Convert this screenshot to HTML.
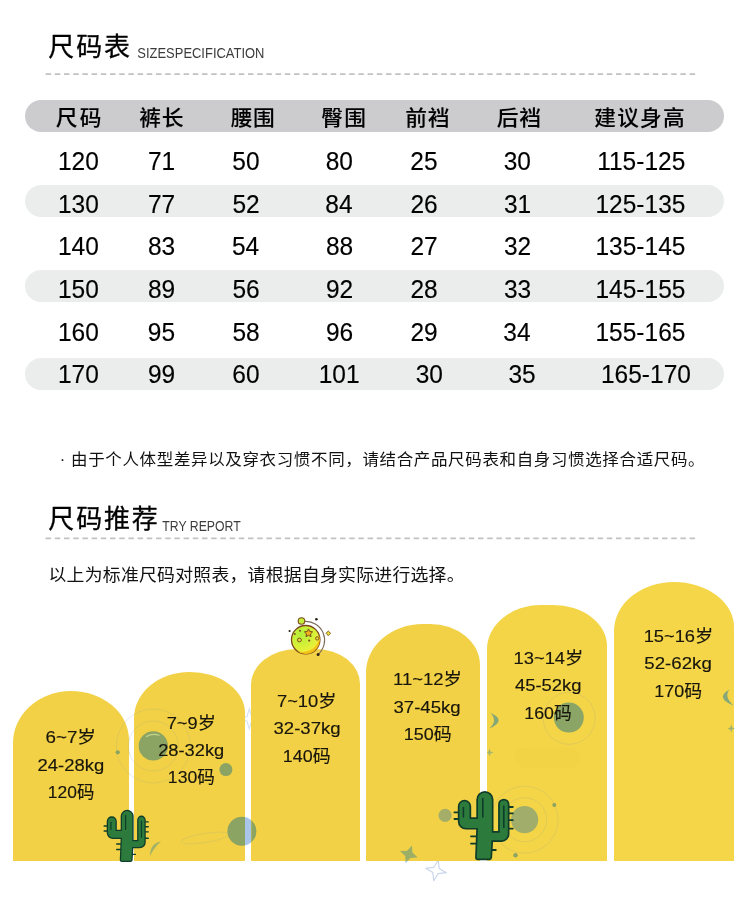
<!DOCTYPE html>
<html lang="zh-CN">
<head>
<meta charset="utf-8">
<title>尺码表 · 尺码推荐</title>
<style>
html,body{margin:0;padding:0;background:#fff}
body{position:relative;width:750px;height:914px;overflow:hidden;color:#111;
  font-family:"Liberation Sans","Noto Sans CJK SC",sans-serif}
main,h2,p,div,section{margin:0;padding:0;font-weight:400}
.t{position:absolute;display:block;white-space:nowrap;line-height:1;transform-origin:0 0;margin:0;padding:0}
.ttl{color:#000;font-weight:400;-webkit-text-stroke:0.3px #000}
.sub{color:#3c3c3c;font-weight:400}
.note{color:#111;font-weight:400}
.th{color:#000;font-weight:500;-webkit-text-stroke:0.1px #000}
.td{color:#000;font-weight:400;-webkit-text-stroke:0.15px #000}
.al{color:#17150c;font-weight:400;-webkit-text-stroke:0.15px #17150c}
.dash{position:absolute;left:0;top:0}
.bar{position:absolute;left:24.8px;width:699.2px;height:31.6px;border-radius:16px}
.bar.hd{background:#cccccf}
.bar.alt{background:#ebecec}
.arch{position:absolute;background:#f1d046}
.art{position:absolute;left:0;top:0;width:750px;height:914px;pointer-events:none}
</style>
</head>
<body>
<main>
<section id="size-table" aria-label="尺码表">
<h2><span id="h1" class="t ttl" style="left:48px;top:34px;font-size:26.00px;letter-spacing:1.85px;transform:translateX(0.33px)">尺码表</span><span id="h1s" class="t sub" style="left:137px;top:46px;font-size:14.30px;transform:translateX(0.33px) scaleX(0.9057)">SIZESPECIFICATION</span></h2>
<svg class="dash" width="750" height="914" viewBox="0 0 750 914"><line x1="45.6" y1="74.1" x2="695.9" y2="74.1" stroke="#c2c2c2" stroke-width="1.7" stroke-dasharray="5.5 3.7"/><line x1="45.6" y1="538.3" x2="695.9" y2="538.3" stroke="#c2c2c2" stroke-width="1.7" stroke-dasharray="5.5 3.7"/></svg>
<div class="bar hd" style="top:100.2px"></div>
<div class="bar alt" style="top:185.3px"></div>
<div class="bar alt" style="top:270.1px"></div>
<div class="bar alt" style="top:358.1px"></div>
<div class="tbl" role="table">
<div class="thead" role="row"><span id="th0" class="t th" role="columnheader" style="left:55px;top:108px;font-size:20.90px;letter-spacing:2.06px;transform:translateX(0.83px) scaleX(1.0400)">尺码</span><span id="th1" class="t th" role="columnheader" style="left:139px;top:108px;font-size:20.90px;letter-spacing:0.91px;transform:translateX(0.17px) scaleX(1.0400)">裤长</span><span id="th2" class="t th" role="columnheader" style="left:230px;top:108px;font-size:20.90px;letter-spacing:0.58px;transform:translateX(0.67px) scaleX(1.0400)">腰围</span><span id="th3" class="t th" role="columnheader" style="left:321px;top:108px;font-size:20.90px;letter-spacing:1.08px;transform:translateX(0.33px) scaleX(1.0400)">臀围</span><span id="th4" class="t th" role="columnheader" style="left:405px;top:108px;font-size:20.90px;letter-spacing:0.91px;transform:translateX(0.17px) scaleX(1.0400)">前裆</span><span id="th5" class="t th" role="columnheader" style="left:496px;top:108px;font-size:20.90px;letter-spacing:0.73px;transform:translateX(0.67px) scaleX(1.0400)">后裆</span><span id="th6" class="t th" role="columnheader" style="left:594px;top:108px;font-size:20.90px;letter-spacing:1.10px;transform:translateX(0.33px) scaleX(1.0400)">建议身高</span></div>
<div class="tr" role="row"><span id="d0_0" class="t td" role="cell" style="left:58px;top:149px;font-size:25.14px;transform:scaleX(0.9750)">120</span><span id="d0_1" class="t td" role="cell" style="left:147px;top:149px;font-size:25.14px;transform:translateX(1.00px) scaleX(0.9750)">71</span><span id="d0_2" class="t td" role="cell" style="left:232px;top:149px;font-size:25.14px;transform:translateX(0.33px) scaleX(0.9750)">50</span><span id="d0_3" class="t td" role="cell" style="left:325px;top:149px;font-size:25.14px;transform:translateX(0.67px) scaleX(0.9750)">80</span><span id="d0_4" class="t td" role="cell" style="left:410px;top:149px;font-size:25.14px;transform:translateX(0.33px) scaleX(0.9750)">25</span><span id="d0_5" class="t td" role="cell" style="left:503px;top:149px;font-size:25.14px;transform:translateX(0.67px) scaleX(0.9750)">30</span><span id="d0_6" class="t td" role="cell" style="left:597px;top:149px;font-size:25.14px;transform:translateX(0.17px) scaleX(0.9750)">115-125</span></div>
<div class="tr" role="row"><span id="d1_0" class="t td" role="cell" style="left:58px;top:192px;font-size:25.14px;transform:scaleX(0.9750)">130</span><span id="d1_1" class="t td" role="cell" style="left:147px;top:192px;font-size:25.14px;transform:translateX(1.00px) scaleX(0.9750)">77</span><span id="d1_2" class="t td" role="cell" style="left:232px;top:192px;font-size:25.14px;transform:translateX(0.50px) scaleX(0.9750)">52</span><span id="d1_3" class="t td" role="cell" style="left:325px;top:192px;font-size:25.14px;transform:translateX(0.33px) scaleX(0.9750)">84</span><span id="d1_4" class="t td" role="cell" style="left:410px;top:192px;font-size:25.14px;transform:translateX(0.50px) scaleX(0.9750)">26</span><span id="d1_5" class="t td" role="cell" style="left:504px;top:192px;font-size:25.14px;transform:scaleX(0.9750)">31</span><span id="d1_6" class="t td" role="cell" style="left:595px;top:192px;font-size:25.14px;transform:translateX(0.50px) scaleX(0.9750)">125-135</span></div>
<div class="tr" role="row"><span id="d2_0" class="t td" role="cell" style="left:58px;top:234px;font-size:25.14px;transform:scaleX(0.9750)">140</span><span id="d2_1" class="t td" role="cell" style="left:147px;top:234px;font-size:25.14px;transform:translateX(1.00px) scaleX(0.9750)">83</span><span id="d2_2" class="t td" role="cell" style="left:231px;top:234px;font-size:25.14px;transform:translateX(1.00px) scaleX(0.9750)">54</span><span id="d2_3" class="t td" role="cell" style="left:326px;top:234px;font-size:25.14px;transform:scaleX(0.9750)">88</span><span id="d2_4" class="t td" role="cell" style="left:410px;top:234px;font-size:25.14px;transform:translateX(0.50px) scaleX(0.9750)">27</span><span id="d2_5" class="t td" role="cell" style="left:504px;top:234px;font-size:25.14px;transform:scaleX(0.9750)">32</span><span id="d2_6" class="t td" role="cell" style="left:595px;top:234px;font-size:25.14px;transform:translateX(0.50px) scaleX(0.9750)">135-145</span></div>
<div class="tr" role="row"><span id="d3_0" class="t td" role="cell" style="left:58px;top:277px;font-size:25.14px;transform:scaleX(0.9750)">150</span><span id="d3_1" class="t td" role="cell" style="left:147px;top:277px;font-size:25.14px;transform:translateX(1.00px) scaleX(0.9750)">89</span><span id="d3_2" class="t td" role="cell" style="left:232px;top:277px;font-size:25.14px;transform:translateX(0.50px) scaleX(0.9750)">56</span><span id="d3_3" class="t td" role="cell" style="left:326px;top:277px;font-size:25.14px;transform:scaleX(0.9750)">92</span><span id="d3_4" class="t td" role="cell" style="left:410px;top:277px;font-size:25.14px;transform:translateX(0.50px) scaleX(0.9750)">28</span><span id="d3_5" class="t td" role="cell" style="left:504px;top:277px;font-size:25.14px;transform:scaleX(0.9750)">33</span><span id="d3_6" class="t td" role="cell" style="left:595px;top:277px;font-size:25.14px;transform:translateX(0.50px) scaleX(0.9750)">145-155</span></div>
<div class="tr" role="row"><span id="d4_0" class="t td" role="cell" style="left:58px;top:320px;font-size:25.14px;transform:scaleX(0.9750)">160</span><span id="d4_1" class="t td" role="cell" style="left:147px;top:320px;font-size:25.14px;transform:translateX(0.83px) scaleX(0.9750)">95</span><span id="d4_2" class="t td" role="cell" style="left:232px;top:320px;font-size:25.14px;transform:translateX(0.50px) scaleX(0.9750)">58</span><span id="d4_3" class="t td" role="cell" style="left:326px;top:320px;font-size:25.14px;transform:scaleX(0.9750)">96</span><span id="d4_4" class="t td" role="cell" style="left:410px;top:320px;font-size:25.14px;transform:translateX(0.50px) scaleX(0.9750)">29</span><span id="d4_5" class="t td" role="cell" style="left:503px;top:320px;font-size:25.14px;transform:translateX(0.33px) scaleX(0.9750)">34</span><span id="d4_6" class="t td" role="cell" style="left:595px;top:320px;font-size:25.14px;transform:translateX(0.50px) scaleX(0.9750)">155-165</span></div>
<div class="tr" role="row"><span id="d5_0" class="t td" role="cell" style="left:58px;top:362px;font-size:25.14px;transform:scaleX(0.9750)">170</span><span id="d5_1" class="t td" role="cell" style="left:147px;top:362px;font-size:25.14px;transform:translateX(1.00px) scaleX(0.9750)">99</span><span id="d5_2" class="t td" role="cell" style="left:232px;top:362px;font-size:25.14px;transform:translateX(0.33px) scaleX(0.9750)">60</span><span id="d5_3" class="t td" role="cell" style="left:318px;top:362px;font-size:25.14px;transform:translateX(0.75px) scaleX(0.9750)">101</span><span id="d5_4" class="t td" role="cell" style="left:415px;top:362px;font-size:25.14px;transform:translateX(0.67px) scaleX(0.9750)">30</span><span id="d5_5" class="t td" role="cell" style="left:508px;top:362px;font-size:25.14px;transform:translateX(0.50px) scaleX(0.9750)">35</span><span id="d5_6" class="t td" role="cell" style="left:601px;top:362px;font-size:25.14px;transform:scaleX(0.9750)">165-170</span></div>
</div>
<p id="note" class="t note" style="left:59px;top:452px;font-size:16.00px;letter-spacing:0.64px;transform:translateX(0.67px) scaleX(1.0300)">· 由于个人体型差异以及穿衣习惯不同，请结合产品尺码表和自身习惯选择合适尺码。</p>
</section>
<section id="size-recommend" aria-label="尺码推荐">
<h2><span id="h2" class="t ttl" style="left:48px;top:506px;font-size:26.00px;letter-spacing:1.81px;transform:translateX(0.33px)">尺码推荐</span><span id="h2s" class="t sub" style="left:162px;top:519px;font-size:14.30px;transform:translateX(0.33px) scaleX(0.8574)">TRY REPORT</span></h2>
<p id="desc" class="t note" style="left:48px;top:567px;font-size:17.00px;letter-spacing:0.24px;transform:translateX(0.47px) scaleX(1.0500)">以上为标准尺码对照表，请根据自身实际进行选择。</p>
<svg class="art" id="art-back" width="750" height="914" viewBox="0 0 750 914" aria-hidden="true">
<g id="sky-white" fill="none" stroke="#e3eaf5" stroke-width="1">
<circle cx="153.3" cy="746" r="25"/><circle cx="153.3" cy="746" r="37"/>
</g>
<circle cx="241.9" cy="831.2" r="14.5" fill="#a9c6ea"/>
<polygon points="249.3,708.8 251.6,716.5 259.3,718.8 251.6,721.1 249.3,728.8 247.0,721.1 239.3,718.8 247.0,716.5" fill="none" stroke="#d5e1f1" stroke-width="1.1"/>
<polygon points="438.2,860.2 439.2,868.4 446.3,872.7 438.1,873.7 433.8,880.8 432.8,872.6 425.7,868.3 433.9,867.3" fill="none" stroke="#c9d6ea" stroke-width="1.2" stroke-linejoin="round"/>
<polygon points="412.0,845.4 412.4,852.6 417.7,857.5 410.5,857.9 405.6,863.2 405.2,856.0 399.9,851.1 407.1,850.7" fill="#9fb7e6"/>
</svg>
<div class="arch" id="arch0" style="left:13.3px;top:691.4px;width:116.1px;height:169.4px;background:#f2d146;border-radius:58.0px 58.0px 0 0 / 52.0px 49.0px 0 0"></div>
<div class="arch" id="arch1" style="left:134.4px;top:671.8px;width:110.6px;height:189.0px;background:#f2d146;border-radius:55.3px 55.3px 0 0 / 46.0px 41.0px 0 0"></div>
<div class="arch" id="arch2" style="left:251.3px;top:648.6px;width:108.8px;height:212.2px;background:#f2d146;border-radius:46.0px 44.0px 0 0 / 36.0px 35.0px 0 0"></div>
<div class="arch" id="arch3" style="left:366.1px;top:623.6px;width:113.9px;height:237.2px;background:#f2d146;border-radius:56.9px 50.0px 0 0 / 48.5px 41.0px 0 0"></div>
<div class="arch" id="arch4" style="left:487.3px;top:605.2px;width:119.5px;height:255.6px;background:#f4d548;border-radius:54.0px 54.0px 0 0 / 44.0px 41.0px 0 0"></div>
<div class="arch" id="arch5" style="left:614.3px;top:581.8px;width:120.1px;height:279.0px;background:#f4d648;border-radius:60.0px 60.0px 0 0 / 49.0px 45.0px 0 0"></div>
<svg class="art" id="art" width="750" height="914" viewBox="0 0 750 914" aria-hidden="true">
<defs>
<clipPath id="on-arch"><path d="M13.3 860.8 V743.4 A58.0 52.0 0 0 1 71.3 691.4 H71.4 A58.0 49.0 0 0 1 129.4 740.4 V860.8 Z"/><path d="M134.4 860.8 V717.8 A55.3 46.0 0 0 1 189.7 671.8 H189.7 A55.3 41.0 0 0 1 245.0 712.8 V860.8 Z"/><path d="M251.3 860.8 V684.6 A46.0 36.0 0 0 1 297.3 648.6 H316.1 A44.0 35.0 0 0 1 360.1 683.6 V860.8 Z"/><path d="M366.1 860.8 V672.1 A56.9 48.5 0 0 1 423.0 623.6 H430.0 A50.0 41.0 0 0 1 480.0 664.6 V860.8 Z"/><path d="M487.3 860.8 V649.2 A54.0 44.0 0 0 1 541.3 605.2 H552.8 A54.0 41.0 0 0 1 606.8 646.2 V860.8 Z"/><path d="M614.3 860.8 V630.8 A60.0 49.0 0 0 1 674.3 581.8 H674.4 A60.0 45.0 0 0 1 734.4 626.8 V860.8 Z"/></clipPath>
<radialGradient id="moon" cx="0.33" cy="0.28" r="0.8"><stop offset="0" stop-color="#b2ee3a"/><stop offset="0.5" stop-color="#d2f038"/><stop offset="1" stop-color="#fbef3a"/></radialGradient>
</defs>
<g id="sky-yellow" clip-path="url(#on-arch)">
<rect x="514.5" y="747.5" width="66" height="20" rx="10" fill="#f2d145" opacity="0.75"/>
<g fill="none" stroke="#d6c45c" stroke-width="0.9" opacity="0.75">
<circle cx="153.3" cy="746" r="25"/><circle cx="153.3" cy="746" r="37"/>
<circle cx="524.6" cy="819.7" r="22"/><circle cx="524.6" cy="819.7" r="33.5"/>
<circle cx="569.2" cy="718.3" r="26"/>
<ellipse cx="205" cy="838" rx="24" ry="4.5" transform="rotate(-9 205 838)"/>
</g>
<circle cx="153.3" cy="745.9" r="14.6" fill="#8ba363"/>
<path d="M146.5 736.5 q6 -3.6 12.5 -1.2" fill="none" stroke="#c7d48f" stroke-width="1.2" stroke-linecap="round"/>
<circle cx="117.7" cy="752.3" r="2.1" fill="#8ba363"/>
<circle cx="225.9" cy="769.6" r="6.5" fill="#8ba363"/>
<circle cx="241.9" cy="831.2" r="14.5" fill="#8ba363"/>
<path d="M161 841.6 q-10.5 1.5 -11.2 14.4 q5.6 -10 11.2 -14.4z" fill="#a3b268"/>
<circle cx="445.1" cy="815.4" r="6.6" fill="#a4ae69"/>
<circle cx="524.6" cy="819.7" r="13.6" fill="#a1ae6b"/>
<circle cx="515.5" cy="855.3" r="2.2" fill="#8ba363"/>
<circle cx="554.3" cy="805" r="2" fill="#8ba363"/>
<circle cx="568.8" cy="717.6" r="15" fill="#8ba567"/>
<path d="M490.3 712.7 Q507.6 720.4 489.3 728.5 Q498.2 720.6 490.3 712.7 Z" fill="#86a878"/>
<path d="M729.5 689.6 Q714.5 698 733.8 705.8 Q723.5 697 729.5 689.6 Z" fill="#86a878"/>
<polygon points="489.5,748.5 490.5,751.5 493.5,752.5 490.5,753.5 489.5,756.5 488.5,753.5 485.5,752.5 488.5,751.5" fill="#a3b46c"/>
<polygon points="731.2,724.4 732.2,727.4 735.2,728.4 732.2,729.4 731.2,732.4 730.2,729.4 727.2,728.4 730.2,727.4" fill="#a3b46c"/>
<polygon points="412.0,845.4 412.4,852.6 417.7,857.5 410.5,857.9 405.6,863.2 405.2,856.0 399.9,851.1 407.1,850.7" fill="#9caf66"/>
</g>
<g id="moon-icon">
<path d="M304.6 621.4 A18.8 18.8 0 0 1 318.2 654.3" fill="none" stroke="#7b6a58" stroke-width="1.1"/>
<circle cx="305.7" cy="639.7" r="14.2" fill="url(#moon)" stroke="#7a4b1d" stroke-width="1.3"/>
<path d="M319.3 635.5 A14.2 14.2 0 0 1 297 650.9 A16.5 16.5 0 0 0 319.3 635.5z" fill="#f5c21a"/>
<polygon points="308.50,628.90 309.76,631.46 312.59,631.87 310.54,633.86 311.03,636.68 308.50,635.35 305.97,636.68 306.46,633.86 304.41,631.87 307.24,631.46" fill="#f4b01a" stroke="#7a4b1d" stroke-width="1" stroke-linejoin="round"/>
<circle cx="299.4" cy="640" r="1.9" fill="#e9e13a" stroke="#7a4b1d" stroke-width="1"/>
<circle cx="317.2" cy="638.4" r="1.7" fill="#e9d23a" stroke="#7a4b1d" stroke-width="0.9"/>
<circle cx="309.2" cy="640.6" r="1.1" fill="#7a4b1d"/><circle cx="300" cy="630.8" r="1" fill="#7a4b1d"/><circle cx="294.8" cy="634" r="1" fill="#7a4b1d"/>
<circle cx="301.5" cy="621" r="3.3" fill="#c4ee3a" stroke="#7a4b1d" stroke-width="1.1"/>
<circle cx="316.4" cy="619.2" r="1.3" fill="#2a2018"/><circle cx="289.6" cy="631" r="1.1" fill="#2a2018"/><circle cx="318.1" cy="654.4" r="1.5" fill="#2a2018"/>
<polygon points="328.3,631.1 329.5,632.1 330.5,633.3 329.5,634.5 328.3,635.5 327.1,634.5 326.1,633.3 327.1,632.1" fill="#e6e63a" stroke="#7a4b1d" stroke-width="0.9"/>
</g>
<g id="cactus-s" transform="translate(106.70 809.80) scale(0.7553)">
<line x1="-3.4" y1="21.4" x2="2.0" y2="21.4" stroke="#0f3d2a" stroke-width="1.8" stroke-linecap="round"/>
<line x1="-3.4" y1="28.0" x2="2.0" y2="28.0" stroke="#0f3d2a" stroke-width="1.8" stroke-linecap="round"/>
<line x1="13.2" y1="45.3" x2="19.0" y2="45.3" stroke="#0f3d2a" stroke-width="1.8" stroke-linecap="round"/>
<line x1="13.2" y1="52.6" x2="19.0" y2="52.6" stroke="#0f3d2a" stroke-width="1.8" stroke-linecap="round"/>
<line x1="33.0" y1="59.0" x2="38.0" y2="59.0" stroke="#0f3d2a" stroke-width="1.8" stroke-linecap="round"/>
<line x1="50.0" y1="16.0" x2="55.0" y2="16.0" stroke="#0f3d2a" stroke-width="1.8" stroke-linecap="round"/>
<line x1="50.0" y1="22.4" x2="55.0" y2="22.4" stroke="#0f3d2a" stroke-width="1.8" stroke-linecap="round"/>
<line x1="50.0" y1="29.2" x2="55.0" y2="29.2" stroke="#0f3d2a" stroke-width="1.8" stroke-linecap="round"/>
<line x1="50.0" y1="37.6" x2="55.0" y2="37.6" stroke="#0f3d2a" stroke-width="1.8" stroke-linecap="round"/>
<path d="M19.0 66.6 L20.2 36 V8.6 A6.9 6.9 0 0 1 34.0 8.6 V44 L32.6 66.6 Q32.5 67.5 31.6 67.5 H20.0 Q19.0 67.5 19.0 66.6 Z" fill="#0f3d2a" stroke="#0f3d2a" stroke-width="3.4" stroke-linejoin="round"/>
<path d="M1.7 15.4 A5.0 5.0 0 0 1 11.7 15.4 V28.0 H22 V36.9 H8.2 A6.5 6.5 0 0 1 1.7 30.4 Z" fill="#0f3d2a" stroke="#0f3d2a" stroke-width="3.4" stroke-linejoin="round"/>
<path d="M42.0 13.4 A4.0 4.0 0 0 1 50.0 13.4 V43.0 A6.2 6.2 0 0 1 43.8 49.2 H31 V41.8 H42.0 Z" fill="#0f3d2a" stroke="#0f3d2a" stroke-width="3.4" stroke-linejoin="round"/>
<path d="M19.0 66.6 L20.2 36 V8.6 A6.9 6.9 0 0 1 34.0 8.6 V44 L32.6 66.6 Q32.5 67.5 31.6 67.5 H20.0 Q19.0 67.5 19.0 66.6 Z" fill="#2c7a3c"/>
<path d="M1.7 15.4 A5.0 5.0 0 0 1 11.7 15.4 V28.0 H22 V36.9 H8.2 A6.5 6.5 0 0 1 1.7 30.4 Z" fill="#2c7a3c"/>
<path d="M42.0 13.4 A4.0 4.0 0 0 1 50.0 13.4 V43.0 A6.2 6.2 0 0 1 43.8 49.2 H31 V41.8 H42.0 Z" fill="#2c7a3c"/>
<line x1="25.0" y1="7.5" x2="25.0" y2="26.0" stroke="#0f3d2a" stroke-width="1.6" stroke-linecap="round"/>
<line x1="5.6" y1="16.5" x2="5.6" y2="26.0" stroke="#0f3d2a" stroke-width="1.6" stroke-linecap="round"/>
<line x1="46.0" y1="15.0" x2="46.0" y2="36.5" stroke="#0f3d2a" stroke-width="1.6" stroke-linecap="round"/>
</g>
<g id="cactus-l" transform="translate(457.80 791.00) scale(1.0000)">
<line x1="-3.4" y1="21.4" x2="2.0" y2="21.4" stroke="#0f3d2a" stroke-width="1.8" stroke-linecap="round"/>
<line x1="-3.4" y1="28.0" x2="2.0" y2="28.0" stroke="#0f3d2a" stroke-width="1.8" stroke-linecap="round"/>
<line x1="13.2" y1="45.3" x2="19.0" y2="45.3" stroke="#0f3d2a" stroke-width="1.8" stroke-linecap="round"/>
<line x1="13.2" y1="52.6" x2="19.0" y2="52.6" stroke="#0f3d2a" stroke-width="1.8" stroke-linecap="round"/>
<line x1="33.0" y1="59.0" x2="38.0" y2="59.0" stroke="#0f3d2a" stroke-width="1.8" stroke-linecap="round"/>
<line x1="50.0" y1="16.0" x2="55.0" y2="16.0" stroke="#0f3d2a" stroke-width="1.8" stroke-linecap="round"/>
<line x1="50.0" y1="22.4" x2="55.0" y2="22.4" stroke="#0f3d2a" stroke-width="1.8" stroke-linecap="round"/>
<line x1="50.0" y1="29.2" x2="55.0" y2="29.2" stroke="#0f3d2a" stroke-width="1.8" stroke-linecap="round"/>
<line x1="50.0" y1="37.6" x2="55.0" y2="37.6" stroke="#0f3d2a" stroke-width="1.8" stroke-linecap="round"/>
<path d="M19.0 66.6 L20.2 36 V8.6 A6.9 6.9 0 0 1 34.0 8.6 V44 L32.6 66.6 Q32.5 67.5 31.6 67.5 H20.0 Q19.0 67.5 19.0 66.6 Z" fill="#0f3d2a" stroke="#0f3d2a" stroke-width="3.4" stroke-linejoin="round"/>
<path d="M1.7 15.4 A5.0 5.0 0 0 1 11.7 15.4 V28.0 H22 V36.9 H8.2 A6.5 6.5 0 0 1 1.7 30.4 Z" fill="#0f3d2a" stroke="#0f3d2a" stroke-width="3.4" stroke-linejoin="round"/>
<path d="M42.0 13.4 A4.0 4.0 0 0 1 50.0 13.4 V43.0 A6.2 6.2 0 0 1 43.8 49.2 H31 V41.8 H42.0 Z" fill="#0f3d2a" stroke="#0f3d2a" stroke-width="3.4" stroke-linejoin="round"/>
<path d="M19.0 66.6 L20.2 36 V8.6 A6.9 6.9 0 0 1 34.0 8.6 V44 L32.6 66.6 Q32.5 67.5 31.6 67.5 H20.0 Q19.0 67.5 19.0 66.6 Z" fill="#2c7a3c"/>
<path d="M1.7 15.4 A5.0 5.0 0 0 1 11.7 15.4 V28.0 H22 V36.9 H8.2 A6.5 6.5 0 0 1 1.7 30.4 Z" fill="#2c7a3c"/>
<path d="M42.0 13.4 A4.0 4.0 0 0 1 50.0 13.4 V43.0 A6.2 6.2 0 0 1 43.8 49.2 H31 V41.8 H42.0 Z" fill="#2c7a3c"/>
<line x1="25.0" y1="7.5" x2="25.0" y2="26.0" stroke="#0f3d2a" stroke-width="1.6" stroke-linecap="round"/>
<line x1="5.6" y1="16.5" x2="5.6" y2="26.0" stroke="#0f3d2a" stroke-width="1.6" stroke-linecap="round"/>
<line x1="46.0" y1="15.0" x2="46.0" y2="36.5" stroke="#0f3d2a" stroke-width="1.6" stroke-linecap="round"/>
</g>
</svg>
<div class="lbl"><span id="a0_0" class="t al" style="left:45px;top:729px;font-size:17.40px;transform:translateX(0.50px) scaleX(1.0795)">6~7岁</span><span id="a0_1" class="t al" style="left:37px;top:757px;font-size:17.40px;transform:translateX(0.50px) scaleX(1.0610)">24-28kg</span><span id="a0_2" class="t al" style="left:47px;top:784px;font-size:17.40px;transform:translateX(0.83px) scaleX(1.0016)">120码</span></div>
<div class="lbl"><span id="a1_0" class="t al" style="left:166px;top:715px;font-size:17.40px;transform:translateX(0.67px) scaleX(1.0501)">7~9岁</span><span id="a1_1" class="t al" style="left:158px;top:742px;font-size:17.40px;transform:translateX(0.17px) scaleX(1.0508)">28-32kg</span><span id="a1_2" class="t al" style="left:167px;top:769px;font-size:17.40px;transform:translateX(0.83px) scaleX(1.0129)">130码</span></div>
<div class="lbl"><span id="a2_0" class="t al" style="left:277px;top:693px;font-size:17.40px;transform:scaleX(1.0528)">7~10岁</span><span id="a2_1" class="t al" style="left:273px;top:720px;font-size:17.40px;transform:translateX(0.50px) scaleX(1.0676)">32-37kg</span><span id="a2_2" class="t al" style="left:282px;top:748px;font-size:17.40px;transform:translateX(0.83px) scaleX(1.0295)">140码</span></div>
<div class="lbl"><span id="a3_0" class="t al" style="left:393px;top:671px;font-size:17.40px;transform:scaleX(1.0629)">11~12岁</span><span id="a3_1" class="t al" style="left:393px;top:699px;font-size:17.40px;transform:translateX(0.50px) scaleX(1.0676)">37-45kg</span><span id="a3_2" class="t al" style="left:403px;top:726px;font-size:17.40px;transform:translateX(0.67px) scaleX(1.0333)">150码</span></div>
<div class="lbl"><span id="a4_0" class="t al" style="left:513px;top:650px;font-size:17.40px;transform:translateX(0.50px) scaleX(1.0560)">13~14岁</span><span id="a4_1" class="t al" style="left:514px;top:677px;font-size:17.40px;transform:translateX(1.00px) scaleX(1.0591)">45-52kg</span><span id="a4_2" class="t al" style="left:524px;top:705px;font-size:17.40px;transform:translateX(0.33px) scaleX(1.0219)">160码</span></div>
<div class="lbl"><span id="a5_0" class="t al" style="left:643px;top:628px;font-size:17.40px;transform:translateX(0.67px) scaleX(1.0519)">15~16岁</span><span id="a5_1" class="t al" style="left:644px;top:655px;font-size:17.40px;transform:translateX(0.33px) scaleX(1.0737)">52-62kg</span><span id="a5_2" class="t al" style="left:654px;top:683px;font-size:17.40px;transform:translateX(0.33px) scaleX(1.0296)">170码</span></div>
</section>
</main>
</body>
</html>
